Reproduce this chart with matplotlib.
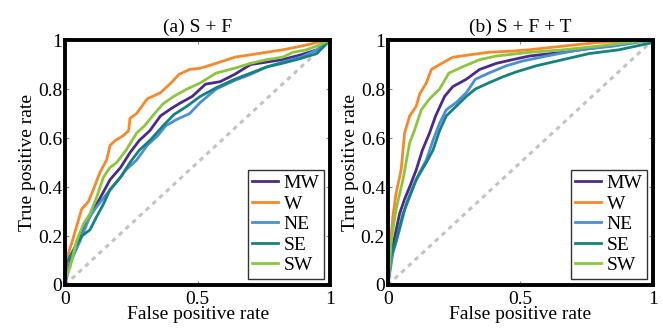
import matplotlib
matplotlib.use('Agg')
import matplotlib.pyplot as plt

plt.rcParams['font.family'] = ['Liberation Serif', 'DejaVu Serif']

names = ['MW', 'W', 'NE', 'SE', 'SW']
colors = ['#4a2a8a', '#f7892b', '#4b8fd6', '#15827f', '#8cc63f']

# (a) S + F
a_mw_x = [0, 0.02, 0.057, 0.094, 0.13, 0.17, 0.21, 0.245, 0.28, 0.32, 0.36, 0.40, 0.43, 0.48, 0.53, 0.585, 0.64, 0.70, 0.76, 0.82, 0.89, 0.95, 1]
a_mw_y = [0.01, 0.10, 0.21, 0.28, 0.35, 0.43, 0.48, 0.54, 0.59, 0.63, 0.69, 0.72, 0.74, 0.77, 0.82, 0.83, 0.86, 0.90, 0.91, 0.92, 0.94, 0.96, 1]
a_w_x = [0, 0.013, 0.025, 0.063, 0.088, 0.107, 0.132, 0.157, 0.17, 0.19, 0.22, 0.24, 0.245, 0.27, 0.31, 0.33, 0.36, 0.40, 0.43, 0.47, 0.51, 0.57, 0.64, 0.70, 0.76, 0.82, 0.89, 0.95, 1]
a_w_y = [0, 0.13, 0.17, 0.31, 0.34, 0.39, 0.46, 0.51, 0.57, 0.59, 0.61, 0.63, 0.68, 0.70, 0.76, 0.77, 0.785, 0.825, 0.86, 0.88, 0.885, 0.905, 0.93, 0.94, 0.95, 0.96, 0.975, 0.99, 1]
a_ne_x = [0, 0.02, 0.057, 0.094, 0.12, 0.16, 0.195, 0.23, 0.27, 0.31, 0.35, 0.38, 0.42, 0.47, 0.51, 0.57, 0.64, 0.70, 0.76, 0.82, 0.89, 0.95, 1]
a_ne_y = [0, 0.09, 0.18, 0.28, 0.32, 0.375, 0.42, 0.47, 0.51, 0.57, 0.61, 0.65, 0.675, 0.70, 0.745, 0.80, 0.835, 0.86, 0.89, 0.91, 0.93, 0.96, 1]
a_se_x = [0, 0.006, 0.03, 0.063, 0.094, 0.12, 0.145, 0.17, 0.21, 0.245, 0.28, 0.32, 0.37, 0.41, 0.46, 0.51, 0.57, 0.64, 0.70, 0.76, 0.82, 0.89, 0.95, 1]
a_se_y = [0.035, 0.09, 0.14, 0.20, 0.225, 0.28, 0.33, 0.39, 0.44, 0.50, 0.55, 0.59, 0.65, 0.695, 0.73, 0.77, 0.805, 0.84, 0.865, 0.89, 0.905, 0.925, 0.945, 1]
a_sw_x = [0, 0.02, 0.044, 0.07, 0.094, 0.12, 0.145, 0.17, 0.195, 0.23, 0.27, 0.30, 0.33, 0.37, 0.41, 0.46, 0.51, 0.57, 0.64, 0.70, 0.76, 0.82, 0.86, 0.91, 0.96, 1]
a_sw_y = [0.02, 0.075, 0.18, 0.25, 0.29, 0.36, 0.44, 0.48, 0.50, 0.55, 0.62, 0.65, 0.69, 0.74, 0.77, 0.80, 0.825, 0.865, 0.885, 0.905, 0.92, 0.93, 0.95, 0.96, 0.98, 1]

# (b) S + F + T
b_mw_x = [0, 0.019, 0.044, 0.063, 0.082, 0.107, 0.13, 0.157, 0.18, 0.214, 0.245, 0.296, 0.346, 0.41, 0.47, 0.535, 0.66, 0.79, 0.91, 1]
b_mw_y = [0, 0.16, 0.29, 0.35, 0.40, 0.47, 0.55, 0.62, 0.69, 0.77, 0.81, 0.84, 0.88, 0.905, 0.92, 0.935, 0.95, 0.97, 0.99, 1]
b_w_x = [0, 0.006, 0.019, 0.031, 0.05, 0.063, 0.082, 0.107, 0.12, 0.145, 0.164, 0.195, 0.245, 0.31, 0.38, 0.47, 0.53, 0.66, 0.79, 0.91, 1]
b_w_y = [0, 0.12, 0.28, 0.375, 0.47, 0.62, 0.69, 0.73, 0.78, 0.825, 0.88, 0.90, 0.93, 0.94, 0.95, 0.955, 0.96, 0.975, 0.99, 0.995, 1]
b_ne_x = [0, 0.019, 0.044, 0.069, 0.094, 0.12, 0.145, 0.17, 0.195, 0.22, 0.258, 0.296, 0.33, 0.38, 0.447, 0.51, 0.60, 0.72, 0.85, 0.94, 1]
b_ne_y = [0, 0.13, 0.225, 0.33, 0.40, 0.46, 0.51, 0.59, 0.66, 0.715, 0.745, 0.785, 0.84, 0.865, 0.895, 0.915, 0.935, 0.96, 0.975, 0.99, 1]
b_se_x = [0, 0.006, 0.031, 0.057, 0.082, 0.107, 0.145, 0.17, 0.195, 0.22, 0.258, 0.296, 0.33, 0.38, 0.434, 0.484, 0.56, 0.66, 0.76, 0.87, 1]
b_se_y = [0, 0.10, 0.18, 0.29, 0.36, 0.43, 0.50, 0.55, 0.63, 0.69, 0.73, 0.77, 0.80, 0.825, 0.85, 0.87, 0.895, 0.92, 0.945, 0.96, 0.99]
b_sw_x = [0, 0.013, 0.031, 0.057, 0.082, 0.10, 0.126, 0.157, 0.195, 0.23, 0.28, 0.346, 0.41, 0.535, 0.66, 0.79, 0.91, 1]
b_sw_y = [0, 0.18, 0.31, 0.43, 0.58, 0.63, 0.715, 0.76, 0.80, 0.865, 0.89, 0.92, 0.935, 0.95, 0.96, 0.975, 0.99, 1]

panels = [
    ('(a) S + F', [(a_mw_x, a_mw_y), (a_w_x, a_w_y), (a_ne_x, a_ne_y), (a_se_x, a_se_y), (a_sw_x, a_sw_y)]),
    ('(b) S + F + T', [(b_mw_x, b_mw_y), (b_w_x, b_w_y), (b_ne_x, b_ne_y), (b_se_x, b_se_y), (b_sw_x, b_sw_y)]),
]

fig = plt.figure(figsize=(6.63, 3.31), dpi=100)
lefts = [0.098, 0.585]

for left, (title, curves) in zip(lefts, panels):
    ax = fig.add_axes([left, 0.139, 0.400, 0.740])
    ax.plot([0, 1], [0, 1], linestyle=(0, (1.5, 1.5)), color='#c3c3c3', lw=2.2)
    for name, c, (xs, ys) in zip(names, colors, curves):
        ax.plot(xs, ys, color=c, lw=2, label=name)
    ax.set_xlim(0, 1)
    ax.set_ylim(0, 1)
    ax.set_xticks([0, 0.5, 1])
    ax.set_xticklabels(['0', '0.5', '1'])
    ax.set_yticks([0, 0.2, 0.4, 0.6, 0.8, 1])
    ax.set_yticklabels(['0', '0.2', '0.4', '0.6', '0.8', '1'])
    ax.tick_params(direction='in', length=3, width=0.8, top=True, right=True,
                   labelsize=14, pad=2, color='#888888')
    ax.tick_params(axis='x', pad=4)
    for s in ax.spines.values():
        s.set_linewidth(2.8)
    ax.set_xlabel('False positive rate', fontsize=14, labelpad=-1)
    ax.set_ylabel('True positive rate', fontsize=14, labelpad=1)
    ax.set_title(title, fontsize=14, pad=6)
    leg = ax.legend(loc='lower right', fontsize=14, frameon=True, fancybox=False,
                    handlelength=1.3, handletextpad=0.3, borderpad=0.25,
                    labelspacing=0.15, borderaxespad=0.3)
    leg.get_frame().set_edgecolor('black')
    leg.get_frame().set_linewidth(1)

fig.savefig('out.png', dpi=100)
